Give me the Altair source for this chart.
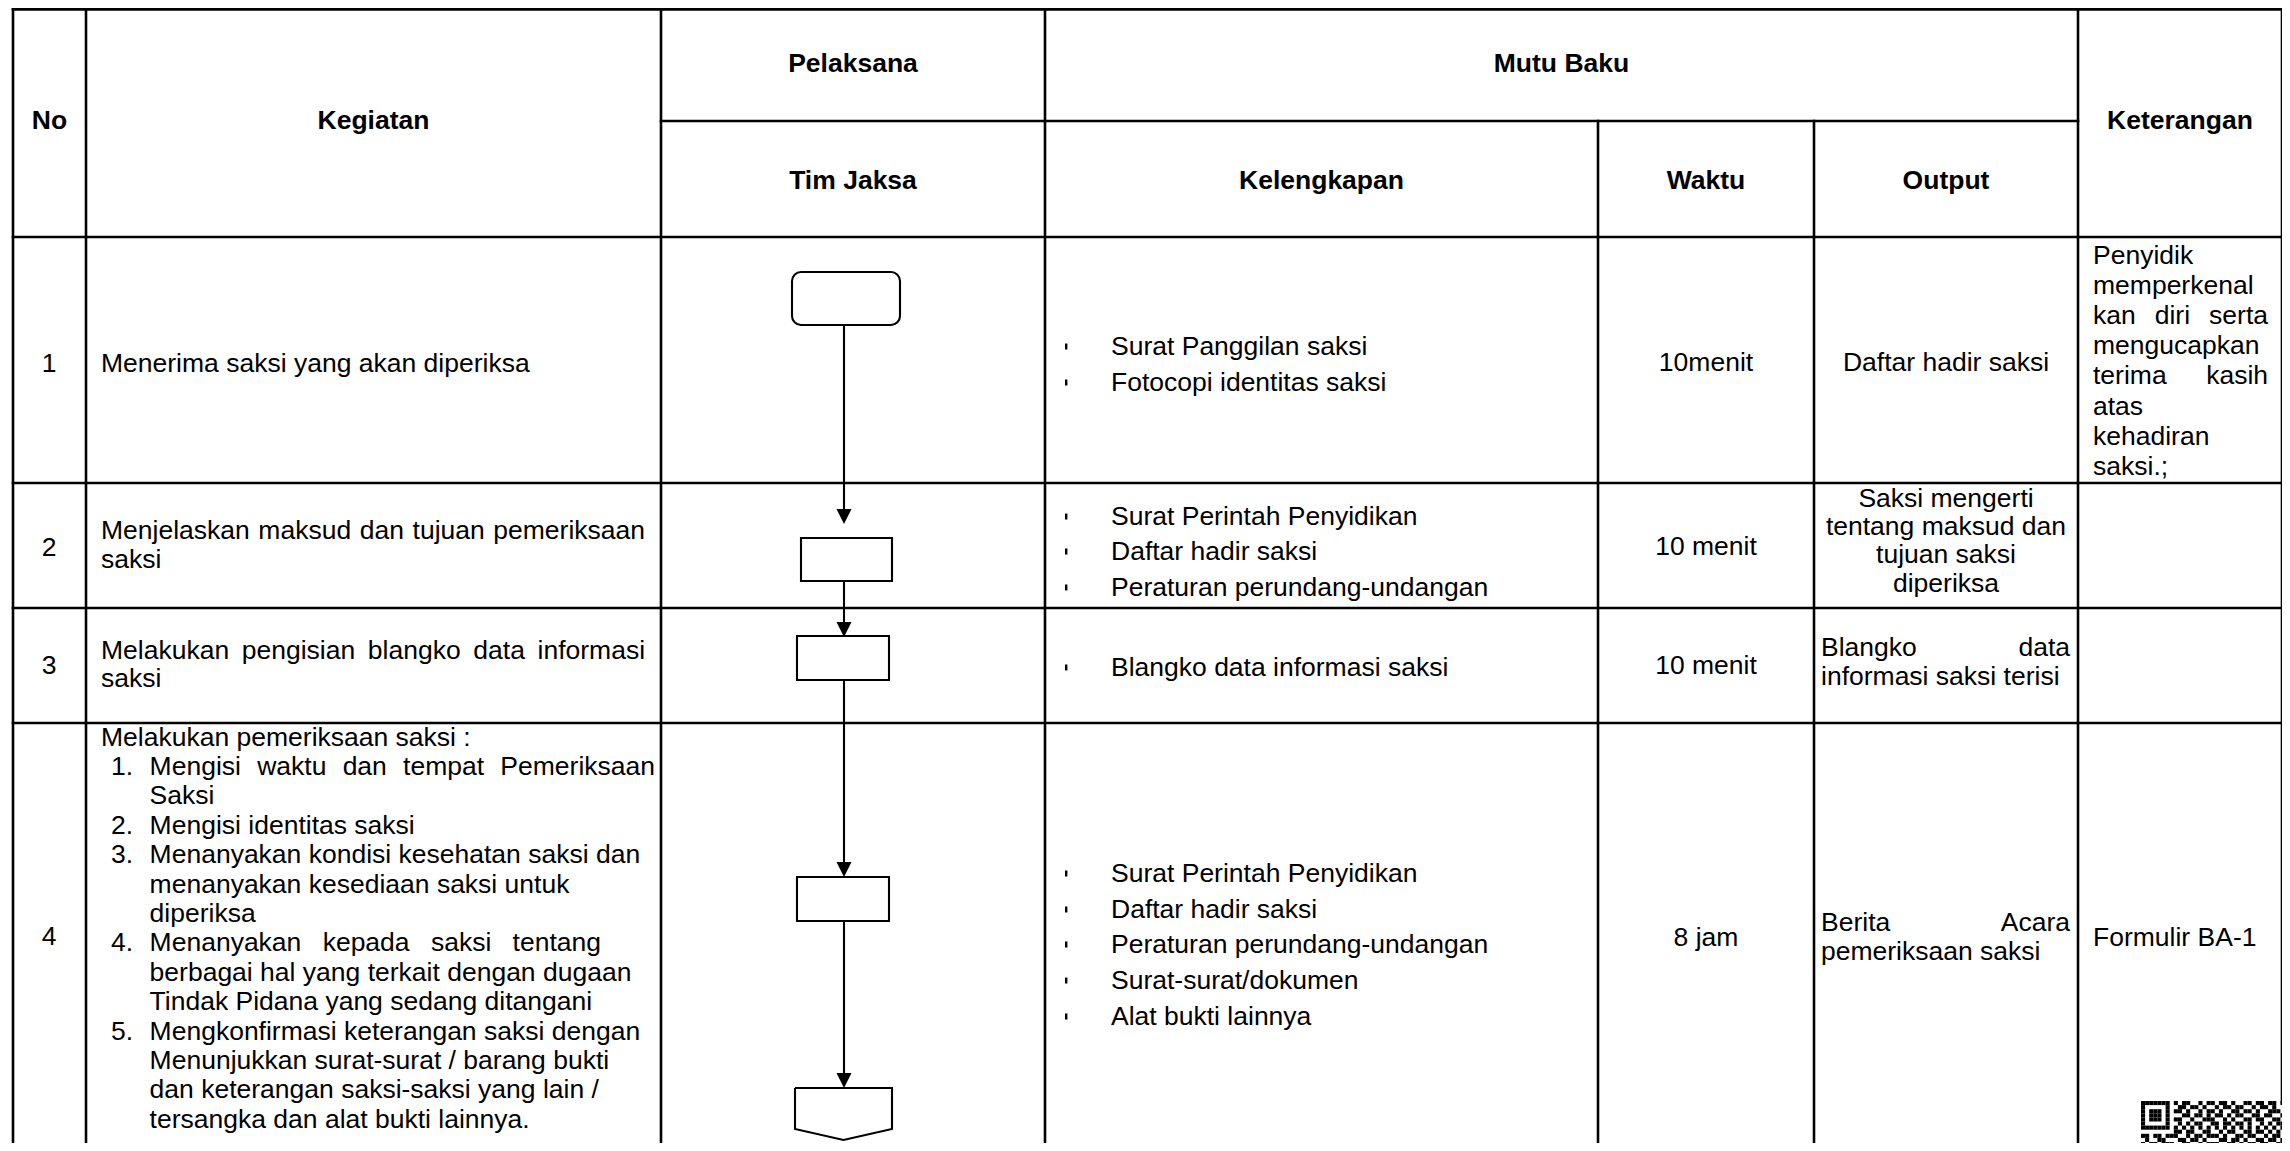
import altair as alt
import pandas as pd

# ---------------- content ----------------
header_top = ["No", "Kegiatan", "Pelaksana", "Mutu Baku", "Keterangan"]
header_sub = ["Tim Jaksa", "Kelengkapan", "Waktu", "Output"]

nomor = ["1", "2", "3", "4"]

kegiatan_1 = ["Menerima saksi yang akan diperiksa"]
kegiatan_2 = ["Menjelaskan maksud dan tujuan pemeriksaan", "saksi"]
kegiatan_3 = ["Melakukan pengisian blangko data informasi", "saksi"]
kegiatan_4_intro = "Melakukan pemeriksaan saksi :"
kegiatan_4_items = [
    ("1.", ["Mengisi waktu dan tempat Pemeriksaan", "Saksi"]),
    ("2.", ["Mengisi identitas saksi"]),
    ("3.", ["Menanyakan kondisi kesehatan saksi dan",
            "menanyakan kesediaan saksi untuk", "diperiksa"]),
    ("4.", ["Menanyakan kepada saksi tentang",
            "berbagai hal yang terkait dengan dugaan",
            "Tindak Pidana yang sedang ditangani"]),
    ("5.", ["Mengkonfirmasi keterangan saksi dengan",
            "Menunjukkan surat-surat / barang bukti",
            "dan keterangan saksi-saksi yang lain /",
            "tersangka dan alat bukti lainnya."]),
]

kelengkapan = [
    ["Surat Panggilan saksi", "Fotocopi identitas saksi"],
    ["Surat Perintah Penyidikan", "Daftar hadir saksi", "Peraturan perundang-undangan"],
    ["Blangko data informasi saksi"],
    ["Surat Perintah Penyidikan", "Daftar hadir saksi", "Peraturan perundang-undangan",
     "Surat-surat/dokumen", "Alat bukti lainnya"],
]

waktu = ["10menit", "10 menit", "10 menit", "8 jam"]

output_1 = ["Daftar hadir saksi"]
output_2 = ["Saksi mengerti", "tentang maksud dan", "tujuan saksi", "diperiksa"]
output_3 = ["Blangko data", "informasi saksi terisi"]
output_4 = ["Berita Acara", "pemeriksaan saksi"]

keterangan_1 = ["Penyidik", "memperkenal", "kan diri serta", "mengucapkan",
                "terima kasih", "atas", "kehadiran", "saksi.;"]
keterangan_4 = ["Formulir BA-1"]

qr_rows = [
    "111111101011001011011010011011011011",
    "100000100110110100101101100101101001",
    "101110101101001011010011011010011101",
    "101110100011011010110101100110110010",
    "101110101100100111001010011011001101",
    "100000100101011001101101101001010110",
    "111111101010101010101010101010101011",
    "000000001101100110010110011011010100",
    "110110111001011011101001101100101101",
    "010011000110110100011011010011011010",
    "101101110011001011100110101101100111",
    "011010011101110100101011010110011001",
]

# ---------------- layout ----------------
FONT = "Liberation Sans"
FS = 26.5
W, H = 2274, 1135
OFF = 8
BOTTOM = 1151
col_x = [13, 86, 661, 1045, 1598, 1814, 2078, 2282]
row_y = [9.4, 121, 237, 483, 608, 723]

AW = {' ': 278, '.': 278, ',': 278, ':': 278, ';': 278, '-': 333, '/': 278,
      'A': 667, 'B': 667, 'C': 722, 'D': 722, 'E': 667, 'F': 611, 'G': 778,
      'H': 722, 'I': 278, 'J': 500, 'K': 667, 'L': 556, 'M': 833, 'N': 722,
      'O': 778, 'P': 667, 'R': 722, 'S': 667, 'T': 611, 'W': 944,
      'a': 556, 'b': 556, 'c': 500, 'd': 556, 'e': 556, 'f': 278, 'g': 556,
      'h': 556, 'i': 222, 'j': 222, 'k': 500, 'l': 222, 'm': 833, 'n': 556,
      'o': 556, 'p': 556, 'q': 556, 'r': 333, 's': 500, 't': 278, 'u': 556,
      'v': 500, 'w': 722, 'x': 500, 'y': 500, 'z': 500}


def tw(s):
    return sum(AW.get(c, 556) for c in s) / 1000.0 * FS


texts = []  # x, y, text, kind


def put(x, y, t, kind="left"):
    texts.append(dict(x=x, y=y, text=t, kind=kind))


def justify(line, x0, x1, y):
    words = line.split()
    ws = [tw(w) for w in words]
    gap = (x1 - x0 - sum(ws)) / (len(words) - 1)
    x = x0
    for w, wd in zip(words, ws):
        put(x, y, w, "left")
        x += wd + gap


def cx(i):
    return (col_x[i] + col_x[i + 1]) / 2


# headers
put(cx(0), 121, header_top[0], "bold")
put(cx(1), 121, header_top[1], "bold")
put(cx(2), 64, header_top[2], "bold")
put((col_x[3] + col_x[6]) / 2, 64, header_top[3], "bold")
put(cx(6), 121, header_top[4], "bold")
put(cx(2), 181, header_sub[0], "bold")
put(cx(3), 181, header_sub[1], "bold")
put(cx(4), 181, header_sub[2], "bold")
put(cx(5), 181, header_sub[3], "bold")

# numbers / waktu
num_y = [364, 548, 666, 937]
for n, yy in zip(nomor, num_y):
    put(49, yy, n, "center")
waktu_y = [363, 547, 666, 938]
for t, yy in zip(waktu, waktu_y):
    put(cx(4), yy, t, "center")

# kegiatan
KL, KR = 101, 645
put(KL, 364, kegiatan_1[0])
justify(kegiatan_2[0], KL, KR, 531)
put(KL, 560, kegiatan_2[1])
justify(kegiatan_3[0], KL, KR, 651)
put(KL, 679, kegiatan_3[1])
LS = 29.4
y = 737.5
put(KL, y, kegiatan_4_intro)
NX, TX = 111, 149.6
just_right = {"Mengisi waktu dan tempat Pemeriksaan": 655,
              "Menanyakan kepada saksi tentang": 601}
for num, lines in kegiatan_4_items:
    y += LS
    put(NX, y, num)
    for j, ln in enumerate(lines):
        if j > 0:
            y += LS
        if ln in just_right:
            justify(ln, TX, just_right[ln], y)
        else:
            put(TX, y, ln)

# kelengkapan with bullets
bullets = []
kel_y = [[347, 383], [517, 552, 588], [668], [874, 910, 945, 981, 1017]]
for items, ys in zip(kelengkapan, kel_y):
    for t, yy in zip(items, ys):
        put(1111, yy, t)
        bullets.append(dict(x=1065, x2=1067.4, y=yy - 3.5, y2=yy + 2.5))

# output
put(cx(5), 363, output_1[0], "center")
for j, t in enumerate(output_2):
    put(cx(5), 499 + 28.2 * j, t, "center")
OL, OR = 1821, 2070
justify(output_3[0], OL, OR, 648)
put(OL, 677, output_3[1])
justify(output_4[0], OL, OR, 923)
put(OL, 952, output_4[1])

# keterangan
KTL, KTR = 2093, 2268
for j, t in enumerate(keterangan_1):
    yy = 255.5 + 30.2 * j
    if len(t.split()) > 1:
        justify(t, KTL, KTR, yy)
    else:
        put(KTL, yy, t)
put(KTL, 938, keterangan_4[0])

tdf = pd.DataFrame(texts)
bdf = pd.DataFrame(bullets)

# table grid
L, R = col_x[0], col_x[-1]
hl = [(L, R, row_y[0]), (661, 2078, 121), (L, R, 237), (L, R, 483),
      (L, R, 608), (L, R, 723)]
vl = [(L, row_y[0], BOTTOM), (86, row_y[0], BOTTOM), (661, row_y[0], BOTTOM),
      (1045, row_y[0], BOTTOM), (1598, 121, BOTTOM), (1814, 121, BOTTOM),
      (2078, row_y[0], BOTTOM), (R, row_y[0], 1101)]
grid = [dict(x=a, x2=b, y=c, y2=c) for a, b, c in hl] + \
       [dict(x=a, x2=a, y=b, y2=c) for a, b, c in vl]
gdf = pd.DataFrame(grid)

# flowchart
FX = 844
term = pd.DataFrame([dict(x=792, x2=900, y=272, y2=325)])
boxes = pd.DataFrame([dict(x=801, x2=892, y=538, y2=581),
                      dict(x=797, x2=889, y=636, y2=680),
                      dict(x=797, x2=889, y=877, y2=921)])
flows = pd.DataFrame([dict(x=FX, y=325, y2=515), dict(x=FX, y=581, y2=628),
                      dict(x=FX, y=680, y2=868), dict(x=FX, y=921, y2=1079)])
tips = [524, 637, 877, 1088]
heads = pd.DataFrame([dict(x=FX, y=t - 7.5) for t in tips])
conn_pts = [(795, 1088), (892, 1088), (892, 1129), (843.5, 1140), (795, 1129), (795, 1088)]
conn = pd.DataFrame([dict(x=a, y=b, o=i) for i, (a, b) in enumerate(conn_pts)])

# qr
MOD = 4.1
QX, QY = 2141, 1101
qr = []
for r, row in enumerate(qr_rows):
    for c, ch in enumerate(row):
        if ch == "1":
            qr.append(dict(x=QX + c * MOD, x2=QX + (c + 1) * MOD,
                           y=QY + r * MOD, y2=QY + (r + 1) * MOD))
qdf = pd.DataFrame(qr)

xs = alt.Scale(domain=[OFF, OFF + W], nice=False, zero=False)
ys = alt.Scale(domain=[OFF, OFF + H], nice=False, zero=False, reverse=True)
X = alt.X("x:Q", scale=xs, axis=None)
Y = alt.Y("y:Q", scale=ys, axis=None)

grid_l = alt.Chart(gdf).mark_rule(color="black", strokeWidth=2.6, strokeCap="square").encode(
    x=X, x2="x2:Q", y=Y, y2="y2:Q")
term_l = alt.Chart(term).mark_rect(fill="white", stroke="black", strokeWidth=2.1,
                                   cornerRadius=9).encode(x=X, x2="x2:Q", y=Y, y2="y2:Q")
box_l = alt.Chart(boxes).mark_rect(fill="white", stroke="black", strokeWidth=2.1).encode(
    x=X, x2="x2:Q", y=Y, y2="y2:Q")
flow_l = alt.Chart(flows).mark_rule(color="black", strokeWidth=2.1).encode(
    x=X, y=Y, y2="y2:Q")
head_l = alt.Chart(heads).mark_point(shape="M-1,-1L1,-1L0,1Z", size=225, filled=True,
                                     color="black", opacity=1, strokeWidth=0).encode(x=X, y=Y)
conn_l = alt.Chart(conn).mark_line(color="black", strokeWidth=2.1).encode(
    x=X, y=Y, order="o:Q")
bul_l = alt.Chart(bdf).mark_rect(color="black").encode(x=X, x2="x2:Q", y=Y, y2="y2:Q")
qr_l = alt.Chart(qdf).mark_rect(color="black").encode(x=X, x2="x2:Q", y=Y, y2="y2:Q")

base_t = alt.Chart(tdf)
t_left = base_t.transform_filter(alt.datum.kind == "left").mark_text(
    align="left", baseline="middle", font=FONT, fontSize=FS, color="black").encode(
    x=X, y=Y, text="text:N")
t_center = base_t.transform_filter(alt.datum.kind == "center").mark_text(
    align="center", baseline="middle", font=FONT, fontSize=FS, color="black").encode(
    x=X, y=Y, text="text:N")
t_bold = base_t.transform_filter(alt.datum.kind == "bold").mark_text(
    align="center", baseline="middle", font=FONT, fontSize=FS, fontWeight="bold",
    color="black").encode(x=X, y=Y, text="text:N")

chart = alt.layer(grid_l, flow_l, head_l, term_l, box_l, conn_l, bul_l, qr_l,
                  t_left, t_center, t_bold).properties(
    width=W, height=H, padding=0, autosize=alt.AutoSizeParams(type="none"),
    background="white").configure_view(stroke=None)

chart.save("out.html", embed_options={"renderer": "svg", "actions": False})
